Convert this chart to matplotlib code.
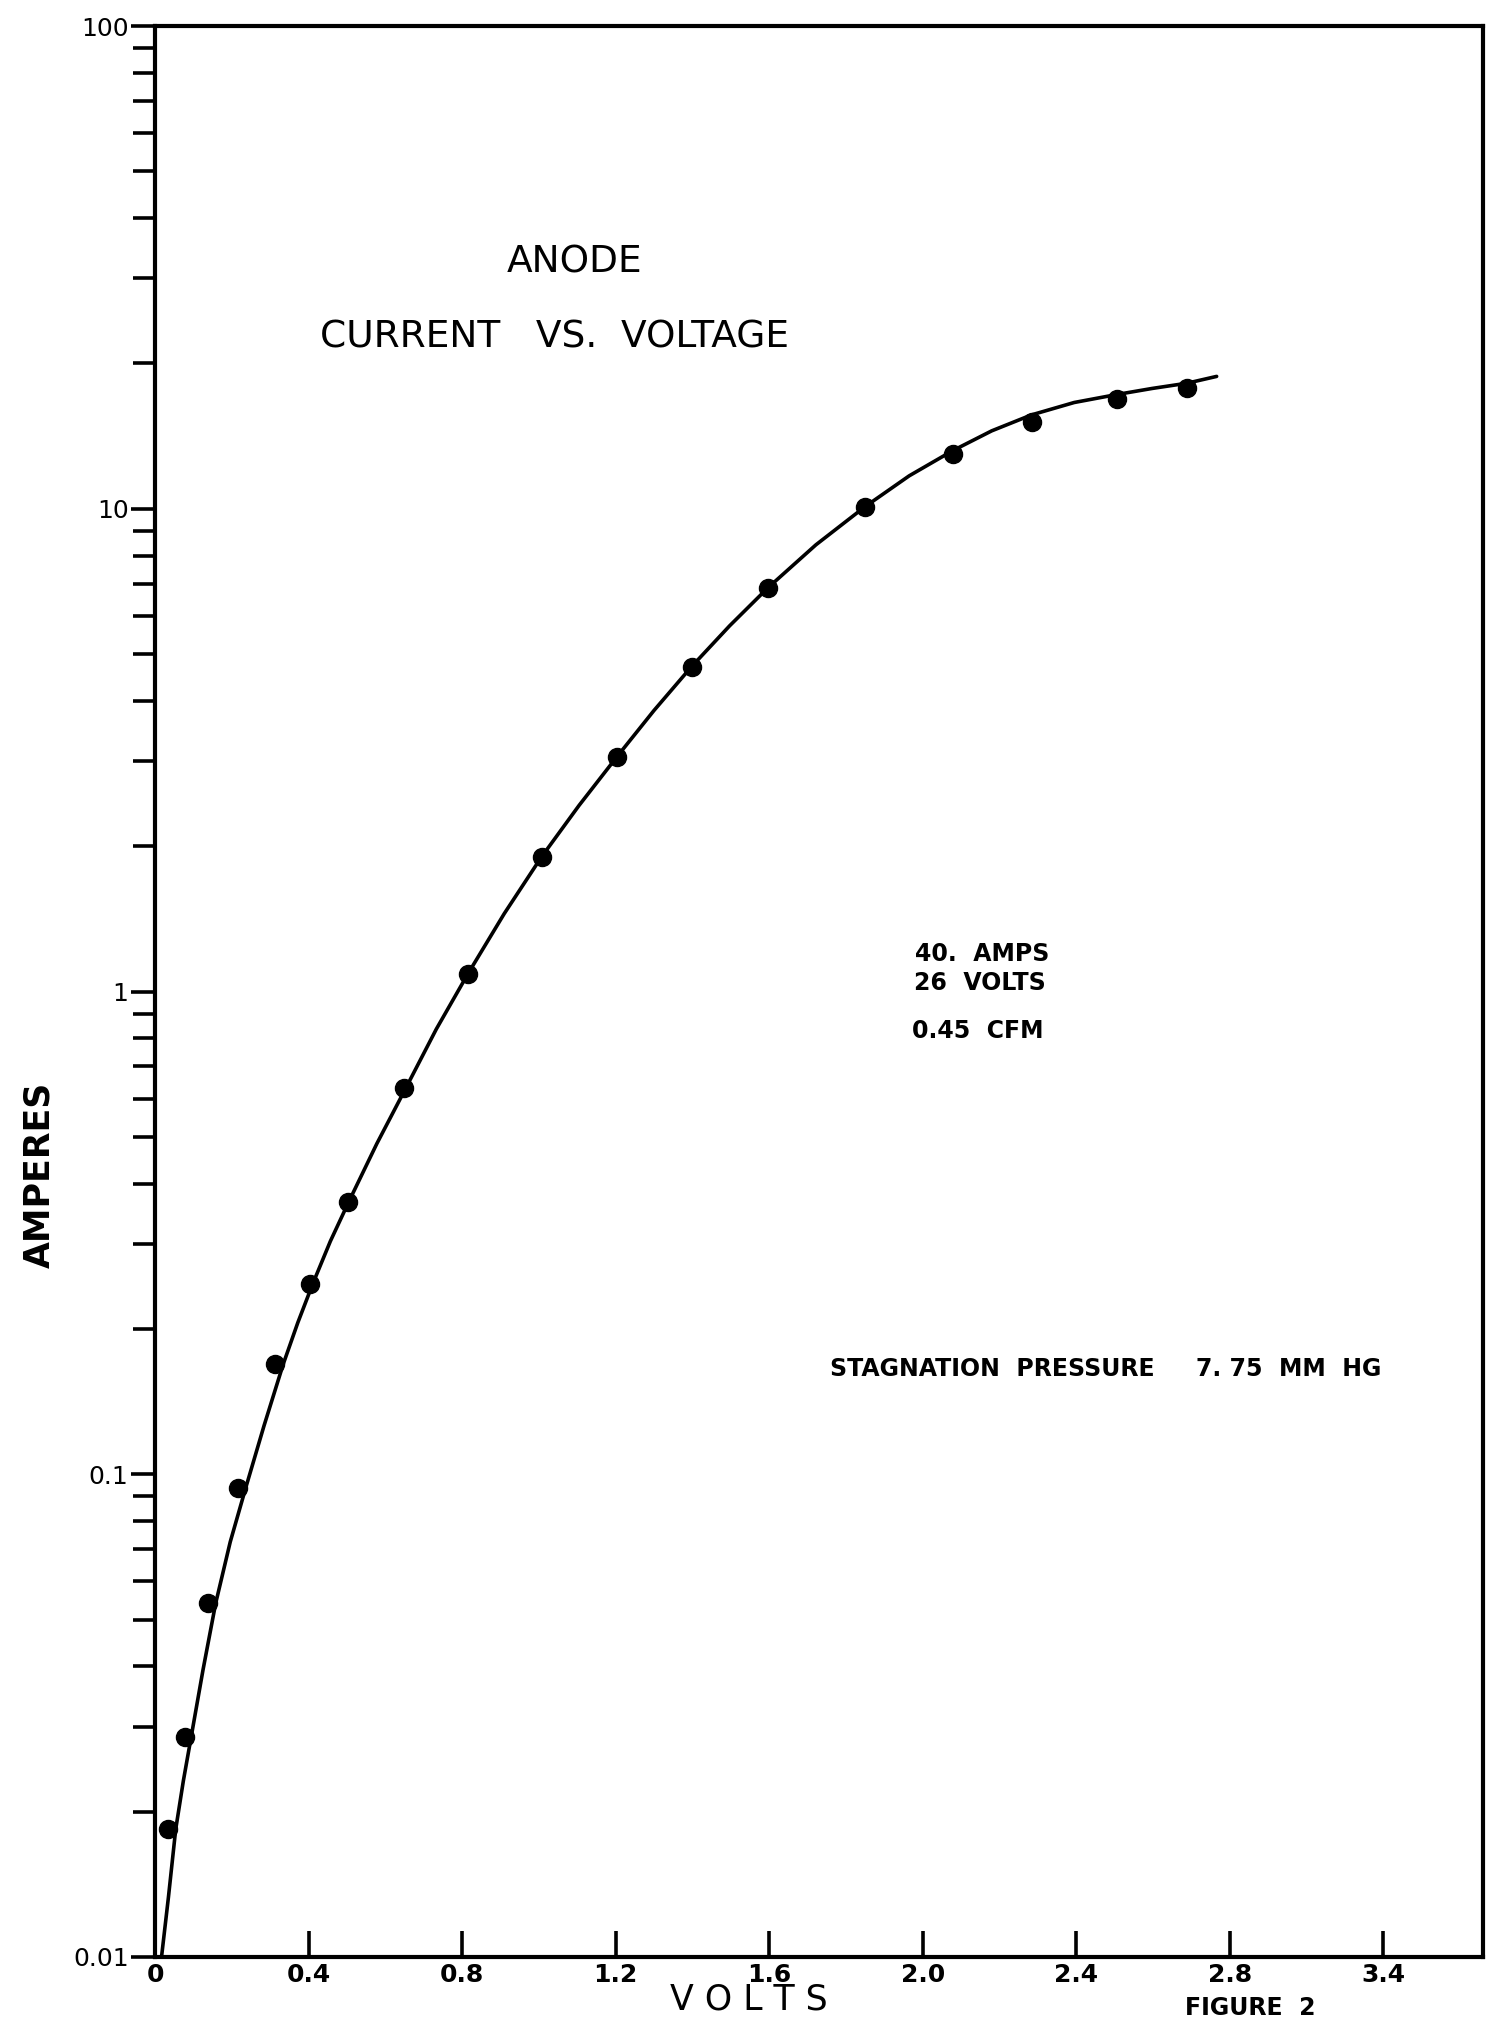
import matplotlib
matplotlib.use("Agg")
import matplotlib.pyplot as plt
from matplotlib.ticker import LogLocator, NullFormatter, FixedLocator

plt.rcParams['font.family'] = ['DejaVu Sans']

# Measured anode points (volts, amperes)
volts = [0.034, 0.077, 0.138, 0.216, 0.313, 0.404, 0.502, 0.650, 0.815,
         1.007, 1.203, 1.398, 1.597, 1.850, 2.079, 2.284, 2.507, 2.689]
amps = [0.0184, 0.0285, 0.054, 0.0935, 0.169, 0.248, 0.367, 0.632, 1.087,
        1.90, 3.06, 4.71, 6.86, 10.1, 13.0, 15.1, 16.9, 17.8]

# Hand-faired curve through the data
curve_volts = [0.017, 0.035, 0.054, 0.074, 0.094, 0.125, 0.158, 0.196, 0.236,
               0.284, 0.334, 0.372, 0.411, 0.457, 0.505, 0.578, 0.654, 0.733,
               0.815, 0.910, 1.007, 1.105, 1.203, 1.300, 1.398, 1.497, 1.597,
               1.722, 1.850, 1.965, 2.079, 2.180, 2.284, 2.395, 2.507, 2.598,
               2.689, 2.766]
curve_amps = [0.0100, 0.0133, 0.0184, 0.0232, 0.0285, 0.0393, 0.054, 0.0724, 0.0935,
              0.126, 0.169, 0.206, 0.248, 0.304, 0.367, 0.484, 0.632, 0.836,
              1.087, 1.45, 1.90, 2.43, 3.06, 3.82, 4.71, 5.72, 6.86,
              8.42, 10.1, 11.7, 13.2, 14.5, 15.65, 16.6, 17.25, 17.75,
              18.2, 18.8]

y_ticks = [0.01, 0.1, 1, 10, 100]
y_tick_labels = ["0.01", "0.1", "1", "10", "100"]
x_ticks = [0, 0.4, 0.8, 1.2, 1.6, 2.0, 2.4, 2.8, 3.2]
x_tick_labels = ["0", "0.4", "0.8", "1.2", "1.6", "2.0", "2.4", "2.8", "3.4"]

W, H = 1511, 2025
fig = plt.figure(figsize=(W / 100, H / 100), dpi=100)
left, right, top, bottom = 155, 1483, 26, 1957
ax = fig.add_axes([left / W, 1 - bottom / H, (right - left) / W, (bottom - top) / H])

ax.set_yscale('log')
ax.set_xlim(0, 3.46)
ax.set_ylim(0.01, 100)

ax.plot(curve_volts, curve_amps, color='black', lw=2.6, solid_capstyle='round',
        solid_joinstyle='round', zorder=3)
ax.plot(volts, amps, 'o', color='black', ms=13, zorder=4)

for s in ax.spines.values():
    s.set_linewidth(3)
    s.set_color('black')

ax.yaxis.set_major_locator(FixedLocator(y_ticks))
ax.set_yticklabels(y_tick_labels)
ax.yaxis.set_minor_locator(LogLocator(base=10, subs=range(2, 10)))
ax.yaxis.set_minor_formatter(NullFormatter())
ax.tick_params(axis='y', which='major', direction='out', length=17, width=2.6,
               labelsize=18, pad=2)
ax.tick_params(axis='y', which='minor', direction='out', length=16, width=2.6)

ax.set_xticks(x_ticks)
ax.set_xticklabels(x_tick_labels)
ax.tick_params(axis='x', which='major', direction='in', length=19, width=2.6,
               labelsize=18, pad=4)
for lab in ax.get_xticklabels():
    lab.set_fontweight('bold')

ax.set_facecolor('white')
fig.patch.set_facecolor('white')


def ftext(x, y, s, **kw):
    fig.text(x / W, 1 - y / H, s, ha='center', va='center', **kw)


ftext(575, 262, "ANODE", fontsize=27)
ftext(555, 337, "CURRENT   VS.  VOLTAGE", fontsize=27)

ftext(982, 954, "40.  AMPS", fontsize=17, fontweight='bold')
ftext(980, 983, "26  VOLTS", fontsize=17, fontweight='bold')
ftext(978, 1031, "0.45  CFM", fontsize=17, fontweight='bold')
ftext(1106, 1369, "STAGNATION  PRESSURE     7. 75  MM  HG", fontsize=17, fontweight='bold')

ftext(39, 1175, "AMPERES", fontsize=25, fontweight='bold', rotation=90)
ftext(749, 2000, "V O L T S", fontsize=25)
ftext(1250, 2008, "FIGURE  2", fontsize=17, fontweight='bold')

fig.savefig("out.png", dpi=100, facecolor='white')
